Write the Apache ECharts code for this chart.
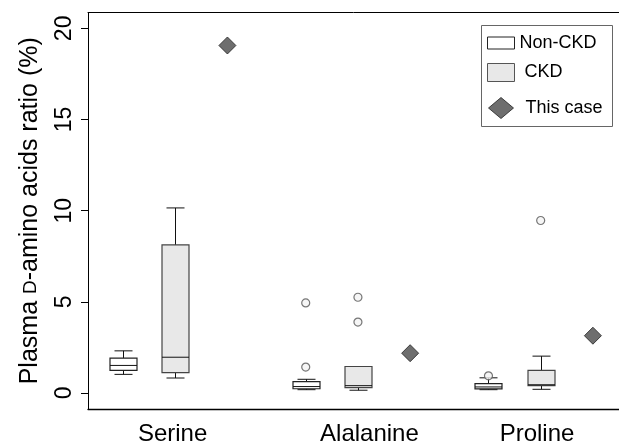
<!DOCTYPE html>
<html>
<head>
<meta charset="utf-8">
<script src="https://cdn.jsdelivr.net/npm/echarts@6/dist/echarts.min.js"></script>
<style>html,body{margin:0;padding:0;background:#fff}#c{width:619px;height:446px}</style>
</head>
<body>
<div id="c"></div>
<script>
// ---- data ----
const categories = ['Serine', 'Alalanine', 'Proline'];
// box stats per category: [min, Q1, median, Q3, max]
const nonCKD = [
  [1.02, 1.24, 1.51, 1.91, 2.31],
  [0.18, 0.23, 0.35, 0.62, 0.75],
  [0.18, 0.22, 0.33, 0.51, 0.83]
];
const CKD = [
  [0.82, 1.11, 1.96, 8.12, 10.15],
  [0.15, 0.29, 0.40, 1.45, 1.45],
  [0.20, 0.40, 0.45, 1.24, 2.02]
];
const thisCase = [19.06, 2.18, 3.14];
const nonCKDOutliers = [[], [1.42, 4.94], [0.94]];
const CKDOutliers = [[], [3.89, 5.25], [9.46]];
const yTicks = [0, 5, 10, 15, 20];

// ---- layout (not data) ----
const groupStart = [1, 4.5, 8];
const labelPos = [1.95, 5.72, 8.93];

function boxData(stats, offset) {
  return stats.map((s, i) => [groupStart[i] + offset].concat(s));
}
function outlierData(list, offset) {
  const out = [];
  list.forEach((arr, i) => arr.forEach(v => out.push([groupStart[i] + offset, v])));
  return out;
}
function makeRender(fill, stroke) {
  return function (params, api) {
    const x = api.value(0);
    const pMin = api.coord([x, api.value(1)]);
    const pQ1 = api.coord([x, api.value(2)]);
    const pMed = api.coord([x, api.value(3)]);
    const pQ3 = api.coord([x, api.value(4)]);
    const pMax = api.coord([x, api.value(5)]);
    const cx = Math.round(pMed[0]) + 0.5;
    const bw = 27, cw = 18;
    const ls = { stroke: '#111', lineWidth: 1 };
    return {
      type: 'group',
      children: [
        { type: 'line', shape: { x1: cx, y1: pMax[1], x2: cx, y2: pQ3[1] }, style: ls },
        { type: 'line', shape: { x1: cx, y1: pMin[1], x2: cx, y2: pQ1[1] }, style: ls },
        { type: 'line', shape: { x1: cx - cw / 2, y1: pMax[1], x2: cx + cw / 2, y2: pMax[1] }, style: ls },
        { type: 'line', shape: { x1: cx - cw / 2, y1: pMin[1], x2: cx + cw / 2, y2: pMin[1] }, style: ls },
        { type: 'rect', shape: { x: cx - bw / 2, y: pQ3[1], width: bw, height: pQ1[1] - pQ3[1] },
          style: { fill: fill, stroke: stroke, lineWidth: 1.2 } },
        { type: 'line', shape: { x1: cx - bw / 2, y1: pMed[1], x2: cx + bw / 2, y2: pMed[1] }, style: { stroke: '#111', lineWidth: 1 } }
      ]
    };
  };
}

const font = 'Liberation Sans, Arial, sans-serif';
const chart = echarts.init(document.getElementById('c'), null, { renderer: 'canvas' });
chart.setOption({
  animation: false,
  backgroundColor: '#fff',
  textStyle: { fontFamily: font },
  grid: { left: 88, top: 12.5, right: -4.5, bottom: 34, containLabel: false },
  xAxis: [{
    type: 'value', min: 0.33, max: 10.5,
    splitLine: { show: false },
    axisLine: { show: true, onZero: false, lineStyle: { color: '#000', width: 1.3 } },
    axisTick: { show: false },
    axisLabel: {
      show: true, customValues: labelPos, margin: 13,
      formatter: v => { const i = labelPos.findIndex(p => Math.abs(p - v) < 1e-6); return i >= 0 ? categories[i] : ''; },
      fontSize: 24, color: '#000', fontFamily: font
    }
  }, {
    type: 'value', min: 0.33, max: 10.5, position: 'top',
    splitLine: { show: false },
    axisLine: { show: true, onZero: false, lineStyle: { color: '#000', width: 1 } },
    axisTick: { show: false }, axisLabel: { show: false }
  }],
  yAxis: {
    type: 'value', min: -0.88, max: 20.87,
    splitLine: { show: false },
    axisLine: { show: true, onZero: false, lineStyle: { color: '#000', width: 1 } },
    axisTick: { show: true, customValues: yTicks, length: 7, lineStyle: { color: '#000' } },
    axisLabel: { show: true, customValues: yTicks, rotate: 90, margin: 12, fontSize: 23, color: '#000', fontFamily: font },
    name: 'Plasma {sc|D}-amino acids ratio (%)',
    nameLocation: 'middle', nameRotate: 90, nameGap: 45,
    nameTextStyle: { fontSize: 25, color: '#000', fontFamily: font,
      rich: { sc: { fontSize: 19, fontFamily: font, color: '#000' } } }
  },
  legend: [
    { left: 487, top: 34, padding: 0, itemWidth: 27, itemHeight: 12, selectedMode: false,
      textStyle: { fontSize: 18, color: '#000', fontFamily: font },
      data: [{ name: 'Non-CKD', icon: 'rect', itemStyle: { color: '#fff', borderColor: '#222', borderWidth: 1 } }] },
    { left: 487, top: 63, padding: 0, itemWidth: 27, itemHeight: 18, selectedMode: false,
      textStyle: { fontSize: 18, color: '#000', fontFamily: font, padding: [0, 0, 0, 5] },
      data: [{ name: 'CKD', icon: 'rect', itemStyle: { color: '#e8e8e8', borderColor: '#555', borderWidth: 1 } }] },
    { left: 488, top: 97, padding: 0, itemWidth: 25, itemHeight: 21, selectedMode: false,
      textStyle: { fontSize: 18, color: '#000', fontFamily: font, padding: [0, 0, 0, 7] },
      data: [{ name: 'This case', icon: 'diamond', itemStyle: { color: '#4a4a4a', borderColor: '#222', borderWidth: 1 } }] }
  ],
  graphic: [{
    type: 'rect', left: 481, top: 25, z: 0,
    shape: { width: 131, height: 101 },
    style: { fill: '#fff', stroke: '#666', lineWidth: 1 }
  }],
  series: [
    { name: 'Non-CKD', type: 'custom', renderItem: makeRender('#fff', '#222'),
      data: boxData(nonCKD, 0), encode: { x: 0, y: [1, 2, 3, 4, 5] }, itemStyle: { color: '#fff' }, z: 3 },
    { name: 'CKD', type: 'custom', renderItem: makeRender('#e8e8e8', '#444'),
      data: boxData(CKD, 1), encode: { x: 0, y: [1, 2, 3, 4, 5] }, itemStyle: { color: '#e8e8e8' }, z: 3 },
    { name: 'outliersNon', type: 'scatter', symbol: 'circle', symbolSize: 8,
      itemStyle: { color: '#f4f4f4', borderColor: '#555', borderWidth: 1.2 },
      data: outlierData(nonCKDOutliers, 0), z: 4 },
    { name: 'outliersCKD', type: 'scatter', symbol: 'circle', symbolSize: 8,
      itemStyle: { color: '#f4f4f4', borderColor: '#555', borderWidth: 1.2 },
      data: outlierData(CKDOutliers, 1), z: 4 },
    { name: 'This case', type: 'scatter', symbol: 'diamond', symbolSize: [17, 17],
      itemStyle: { color: '#4a4a4a', borderColor: '#222', borderWidth: 1 },
      data: thisCase.map((v, i) => [groupStart[i] + 2, v]), z: 5 }
  ]
});
</script>
</body>
</html>
